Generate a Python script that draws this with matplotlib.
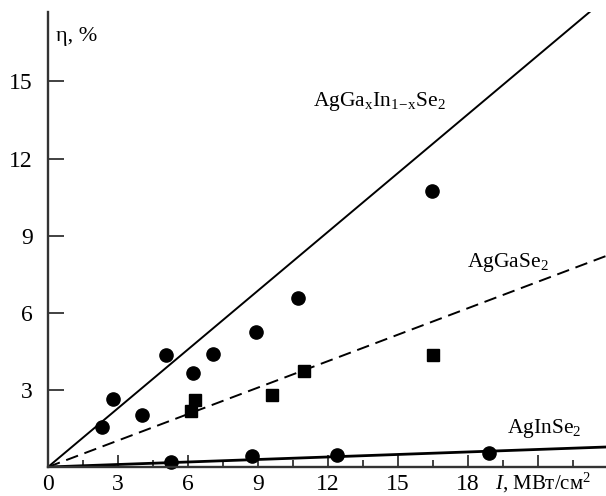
import matplotlib
matplotlib.use("Agg")
import matplotlib.pyplot as plt
import numpy as np

plt.rcParams['font.family'] = ['Liberation Serif', 'DejaVu Serif']
plt.rcParams['mathtext.fontset'] = 'custom'
plt.rcParams['mathtext.rm'] = 'Liberation Serif'
plt.rcParams['mathtext.it'] = 'Liberation Serif:italic'

# AgGa(x)In(1-x)Se2 - circles
mix_x = [2.32, 2.79, 4.04, 5.07, 6.23, 7.09, 8.93, 10.74, 16.45]
mix_y = [1.56, 2.65, 2.02, 4.36, 3.66, 4.40, 5.25, 6.58, 10.74]
# AgGaSe2 - squares
ga_x = [6.14, 6.31, 9.62, 10.96, 16.5]
ga_y = [2.18, 2.61, 2.80, 3.74, 4.36]
# AgInSe2 - circles
in_x = [5.28, 8.76, 12.41, 18.9]
in_y = [0.20, 0.43, 0.47, 0.54]

# slopes of the fitted lines (eta / I)
slope_mix = 0.762
slope_ga = 0.343
slope_in = 0.0325

xmax, ymax = 23.93, 17.7

fig = plt.figure(figsize=(6.06, 4.96), dpi=100)
ax = fig.add_axes([48 / 606, 29 / 496, 558 / 606, 455 / 496])

xl = np.array([0, xmax])
ax.plot(xl, slope_mix * xl, color='black', lw=1.4, solid_capstyle='butt')
ax.plot(xl, slope_ga * xl, color='black', lw=1.4, dashes=(6.5, 3.5))
ax.plot(xl, slope_in * xl, color='black', lw=2.0)

ax.plot(mix_x, mix_y, 'o', color='black', ms=9.5, clip_on=False)
ax.plot(ga_x, ga_y, 's', color='black', ms=8, clip_on=False)
ax.plot(in_x, in_y, 'o', color='black', ms=9.5, clip_on=False)

ax.set_xlim(0, xmax)
ax.set_ylim(0, ymax)

ax.spines['top'].set_visible(False)
ax.spines['right'].set_visible(False)
for s in ('left', 'bottom'):
    ax.spines[s].set_linewidth(1.7)
    ax.spines[s].set_color('#333333')

ax.set_xticks([0, 3, 6, 9, 12, 15, 18, 21])
ax.set_xticklabels(['0', '3', '6', '9', '12', '15', '18', ''])
ax.set_xticks(np.arange(1.5, 23, 3), minor=True)
ax.set_yticks([3, 6, 9, 12, 15])

ax.tick_params(axis='x', which='major', direction='in', length=9, width=1.3,
               color='#333333', labelsize=17, pad=5)
ax.tick_params(axis='x', which='minor', direction='in', length=5, width=1.3,
               color='#333333')
ax.tick_params(axis='y', which='major', direction='in', length=11.5, width=1.3,
               color='#333333', labelsize=17, pad=11)

ax.text(0.35, 16.75, 'η, %', fontsize=16, ha='left', va='center')
ax.text(19.15, -0.62, r'$\mathit{I}$, МВт/см$^2$', fontsize=15, ha='left', va='center')

ax.text(14.2, 14.2, r'AgGa$_{\mathrm{x}}$In$_{1\!-\!\mathrm{x}}$Se$_2$', fontsize=15.5,
        ha='center', va='center')
ax.text(19.7, 7.95, r'AgGaSe$_2$', fontsize=15.5, ha='center', va='center')
ax.text(21.3, 1.5, r'AgInSe$_2$', fontsize=15.5, ha='center', va='center')

fig.savefig('out.png', dpi=100)
